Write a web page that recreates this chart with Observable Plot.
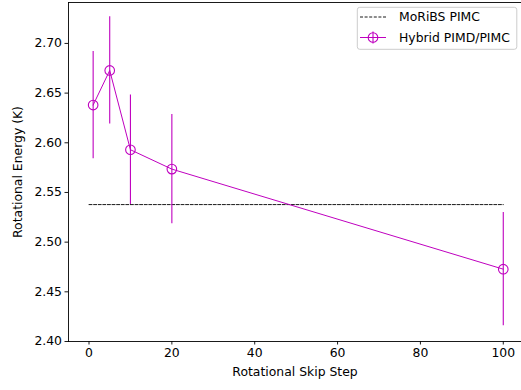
<!DOCTYPE html>
<html>
<head>
<meta charset="utf-8">
<script src="https://cdn.jsdelivr.net/npm/d3@7"></script>
<script src="https://cdn.jsdelivr.net/npm/@observablehq/plot@0.6"></script>
<style>
  html, body { margin: 0; padding: 0; background: white; }
  #wrap { position: relative; width: 521px; height: 390px; overflow: hidden; }
  #legend { position: absolute; left: 356px; top: 6px; }
</style>
</head>
<body>
<div id="wrap"></div>
<script>
// Data
const steps = [1, 5, 10, 20, 100];
const energy = [2.638, 2.6728, 2.593, 2.5735, 2.4728];
const errors = [0.054, 0.054, 0.055, 0.055, 0.057];
const moribsX = [0, 100];
const moribsEnergy = 2.5378;
const xTicks = [0, 20, 40, 60, 80, 100];
const yTicks = [2.40, 2.45, 2.50, 2.55, 2.60, 2.65, 2.70];
const seriesNames = ["MoRiBS PIMC", "Hybrid PIMD/PIMC"];

const magenta = "#bf00bf";
const fs = 12.4;
const hybrid = steps.map((s, i) => ({step: s, e: energy[i], lo: energy[i] - errors[i], hi: energy[i] + errors[i]}));
const moribs = moribsX.map(x => ({step: x, e: moribsEnergy}));

const chart = Plot.plot({
  width: 521,
  height: 390,
  marginLeft: 68,
  marginRight: 0,
  marginTop: 2,
  marginBottom: 49,
  style: {fontFamily: "DejaVu Sans", fontSize: fs + "px", color: "#000", background: "white", overflow: "visible"},
  x: {domain: [-4.95, 104.4]},
  y: {domain: [2.40, 2.7412]},
  marks: [
    Plot.axisX({ticks: xTicks, tickSize: 3.5, tickPadding: 3, label: null, stroke: "#000", strokeWidth: 0.9, fontSize: fs}),
    Plot.axisY({ticks: yTicks, tickSize: 3.5, tickPadding: 3, tickFormat: d3.format(".2f"), label: null, stroke: "#000", strokeWidth: 0.9, fontSize: fs}),
    Plot.frame({anchor: "left", stroke: "#000", strokeWidth: 0.9}),
    Plot.frame({anchor: "bottom", stroke: "#000", strokeWidth: 0.9}),
    Plot.frame({anchor: "top", stroke: "#000", strokeWidth: 0.9}),
    Plot.line(moribs, {x: "step", y: "e", stroke: "#000", strokeWidth: 0.9, strokeDasharray: "3,1.6"}),
    Plot.ruleX(hybrid, {x: "step", y1: "lo", y2: "hi", stroke: magenta, strokeWidth: 1.1}),
    Plot.line(hybrid, {x: "step", y: "e", stroke: magenta, strokeWidth: 1}),
    Plot.dot(hybrid, {x: "step", y: "e", r: 4.8, stroke: magenta, strokeWidth: 1.1, fill: "none"}),
    Plot.text(["Rotational Skip Step"], {frameAnchor: "bottom", dy: 31, lineAnchor: "middle", fontSize: fs, fill: "#000"}),
    Plot.text(["Rotational Energy (K)"], {frameAnchor: "left", dx: -50, rotate: -90, lineAnchor: "middle", textAnchor: "middle", fontSize: fs, fill: "#000"})
  ]
});

const wrap = document.getElementById("wrap");
wrap.appendChild(chart);

// Legend overlay (inside the plot area, as in the reference)
const lg = d3.select(wrap).append("svg")
  .attr("id", "legend")
  .attr("width", 163).attr("height", 46)
  .style("font-family", "DejaVu Sans").style("font-size", fs + "px");
lg.append("rect").attr("x", 1.3).attr("y", 1.3).attr("width", 159.5).attr("height", 42)
  .attr("rx", 2.5).attr("fill", "rgba(255,255,255,0.8)").attr("stroke", "#cccccc").attr("stroke-width", 1);
// row 1
lg.append("line").attr("x1", 4).attr("x2", 30).attr("y1", 11).attr("y2", 11)
  .attr("stroke", "#000").attr("stroke-width", 0.9).attr("stroke-dasharray", "3,1.6");
lg.append("text").attr("x", 43).attr("y", 11).attr("dy", "0.35em").text(seriesNames[0]);
// row 2
lg.append("line").attr("x1", 4).attr("x2", 30).attr("y1", 31.5).attr("y2", 31.5)
  .attr("stroke", magenta).attr("stroke-width", 1);
lg.append("line").attr("x1", 17).attr("x2", 17).attr("y1", 25.5).attr("y2", 37.5)
  .attr("stroke", magenta).attr("stroke-width", 1.1);
lg.append("circle").attr("cx", 17).attr("cy", 31.5).attr("r", 4.8)
  .attr("fill", "none").attr("stroke", magenta).attr("stroke-width", 1.1);
lg.append("text").attr("x", 43).attr("y", 31.5).attr("dy", "0.35em").text(seriesNames[1]);
</script>
</body>
</html>
